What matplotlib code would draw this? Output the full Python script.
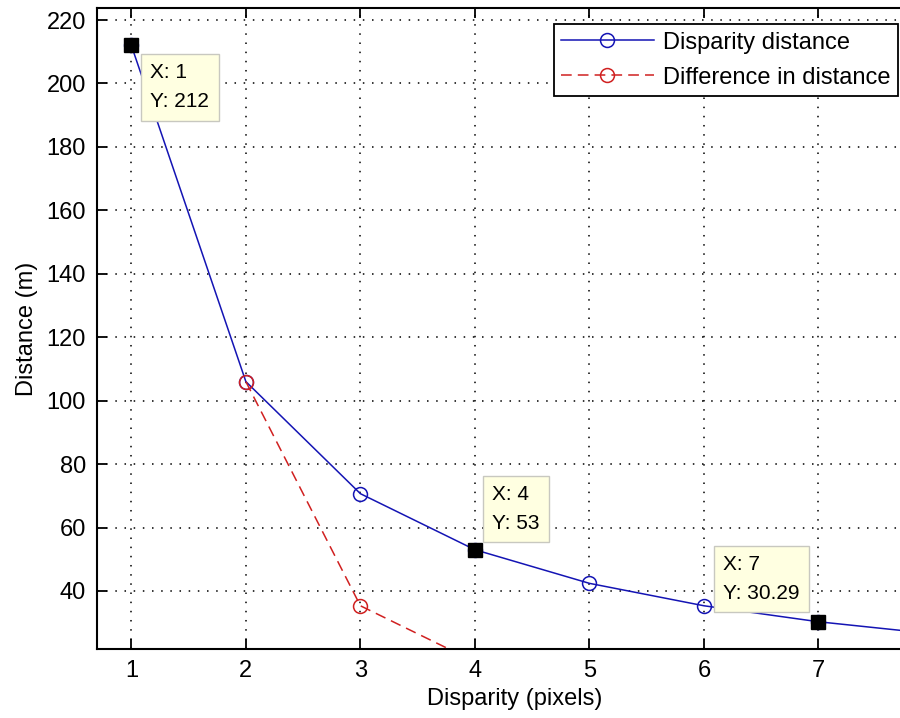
import numpy as np
from matplotlib import pyplot as plt

# data
disparity = [1, 2, 3, 4, 5, 6, 7, 8]
distance = [212, 106, 70.67, 53, 42.4, 35.33, 30.29, 26.5]
diff_x = [2, 3, 4]
diff_dist = [106, 35.33, 17.67]
tip_x = [1, 4, 7]
tip_y = [212, 53, 30.29]
tip_labels = ['X: 1\nY: 212', 'X: 4\nY: 53', 'X: 7\nY: 30.29']

plt.rcParams['font.family'] = ['Liberation Sans', 'DejaVu Sans']

fig = plt.figure(figsize=(9, 7.18), dpi=100)
ax = fig.add_axes([97 / 900, 69 / 718, 836 / 900, 641 / 718])

ax.plot(disparity, distance, '-o', color='#1414b4', lw=1.1, ms=10,
        mfc='none', mew=1.1, label='Disparity distance', zorder=3)
ax.plot(diff_x, diff_dist, '--o', color='#d02020', lw=1.1, ms=10,
        mfc='none', mew=1.1, dashes=(7, 4), label='Difference in distance', zorder=4)

# data tip markers
ax.plot(tip_x, tip_y, 's', color='black', ms=10, zorder=6, label='_nolegend_')

# data tip boxes (offset in pixels from the point)
offsets = [(19, -18), (17, 17), (-19, 19)]
aligns = [('left', 'top'), ('left', 'bottom'), ('right', 'bottom')]
for x, y, txt, off, (ha, va) in zip(tip_x, tip_y, tip_labels, offsets, aligns):
    ax.annotate(txt, xy=(x, y), xytext=off, textcoords='offset pixels',
                ha=ha, va=va, ma='left', fontsize=15, linespacing=1.65, zorder=7,
                bbox=dict(boxstyle='square,pad=0.45', fc='#ffffe1', ec='#c8c8c0', lw=1))

ax.set_xlim(0.7, 8.0)
ax.set_ylim(21.7, 223.8)
ax.set_xticks(range(1, 8))
ax.set_yticks(range(40, 221, 20))

ax.grid(True, color='black', linestyle=(0, (1, 5)), linewidth=1.1)
ax.tick_params(direction='in', length=7, width=1.3, top=True, right=True,
               labelsize=17, pad=8, colors='black')
for s in ax.spines.values():
    s.set_linewidth(1.5)

ax.set_xlabel('Disparity (pixels)', fontsize=17, labelpad=4)
ax.set_ylabel('Distance (m)', fontsize=17, labelpad=6)

leg = ax.legend(loc='upper right', bbox_to_anchor=(898 / 900, 1 - 24 / 718),
                bbox_transform=fig.transFigure, fontsize=17, fancybox=False,
                framealpha=1, edgecolor='black', handlelength=3.9,
                borderpad=0.32, labelspacing=0.55, handletextpad=0.4,
                borderaxespad=0)
leg.get_frame().set_linewidth(1.3)

fig.savefig('out.png', dpi=100)
